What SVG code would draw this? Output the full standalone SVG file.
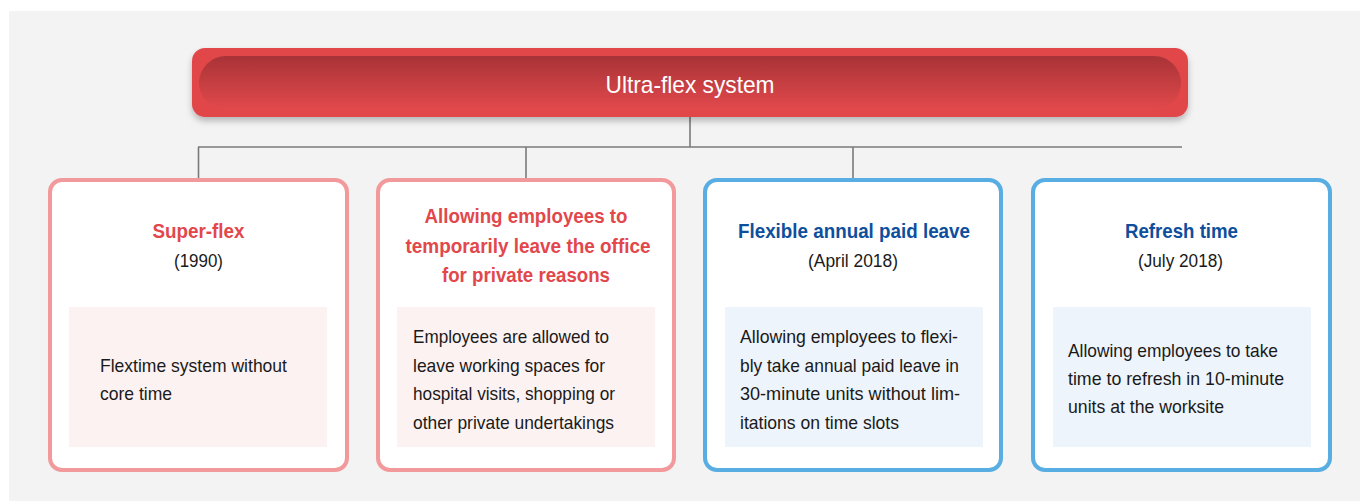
<svg xmlns="http://www.w3.org/2000/svg" width="1360" height="501" viewBox="0 0 1360 501">
<defs>
<style>
.bg{fill:#f3f3f3}
.pink{fill:#ffffff;stroke:#f29a9b;stroke-width:4}
.blue{fill:#ffffff;stroke:#58ade2;stroke-width:4}
.pinkin{fill:#fdf2f2}
.bluein{fill:#eef4fb}
.conn{stroke:#7a7a7a;stroke-width:1.6;fill:none}
text{font-family:"Liberation Sans",Arial,sans-serif}
.tr{fill:#e2474b;font-size:21px;font-weight:bold;text-anchor:middle}
.tb{fill:#0e4f9d;font-size:21px;font-weight:bold;text-anchor:middle}
.dt{fill:#1a1a1a;font-size:18px;text-anchor:middle}
.bd{fill:#1a1a1a;font-size:19px}
.hd{fill:#ffffff;font-size:24px;text-anchor:middle}
</style>
<linearGradient id="pill" x1="0" y1="0" x2="0" y2="1">
<stop offset="0" stop-color="#a83337"/>
<stop offset="1" stop-color="#e2494c"/>
</linearGradient>
<filter id="sh" x="-5%" y="-20%" width="110%" height="160%">
<feDropShadow dx="0" dy="4" stdDeviation="3" flood-color="#000" flood-opacity="0.25"/>
</filter>
</defs>
<rect x="0" y="0" width="1360" height="501" fill="#ffffff"/>
<rect class="bg" x="9" y="11" width="1351" height="490"/>

<g id="connectors">
<line class="conn" x1="690" y1="117" x2="690" y2="147"/>
<line class="conn" x1="198" y1="147" x2="1182" y2="147"/>
<line class="conn" x1="198.5" y1="147" x2="198.5" y2="179"/>
<line class="conn" x1="526" y1="147" x2="526" y2="179"/>
<line class="conn" x1="853" y1="147" x2="853" y2="179"/>
</g>

<g id="root">
<rect x="192" y="48" width="996" height="69" rx="13" fill="#e1474a" filter="url(#sh)"/>
<rect x="199" y="56" width="982" height="54" rx="27" fill="url(#pill)"/>
<text class="hd" x="690" y="93" textLength="169" lengthAdjust="spacingAndGlyphs">Ultra-flex system</text>
</g>

<g id="superflex">
<rect class="pink" x="50" y="180" width="297" height="290" rx="12"/>
<rect class="pinkin" x="69" y="307" width="258" height="140"/>
<text class="tr" x="198.5" y="238" textLength="92" lengthAdjust="spacingAndGlyphs">Super-flex</text>
<text class="dt" x="198.5" y="267" textLength="49" lengthAdjust="spacingAndGlyphs">(1990)</text>
<text class="bd" x="100" y="372" textLength="187" lengthAdjust="spacingAndGlyphs">Flextime system without</text>
<text class="bd" x="100" y="400" textLength="72" lengthAdjust="spacingAndGlyphs">core time</text>
</g>

<g id="leave-office">
<rect class="pink" x="378" y="180" width="296" height="290" rx="12"/>
<rect class="pinkin" x="397" y="307" width="258" height="140"/>
<text class="tr" x="526" y="223" textLength="203" lengthAdjust="spacingAndGlyphs">Allowing employees to</text>
<text class="tr" x="528" y="253" textLength="245" lengthAdjust="spacingAndGlyphs">temporarily leave the office</text>
<text class="tr" x="526" y="282" textLength="168" lengthAdjust="spacingAndGlyphs">for private reasons</text>
<text class="bd" x="413" y="343" textLength="196" lengthAdjust="spacingAndGlyphs">Employees are allowed to</text>
<text class="bd" x="413" y="372" textLength="192" lengthAdjust="spacingAndGlyphs">leave working spaces for</text>
<text class="bd" x="413" y="400" textLength="202" lengthAdjust="spacingAndGlyphs">hospital visits, shopping or</text>
<text class="bd" x="413" y="429" textLength="201" lengthAdjust="spacingAndGlyphs">other private undertakings</text>
</g>

<g id="annual-leave">
<rect class="blue" x="705" y="180" width="296" height="290" rx="12"/>
<rect class="bluein" x="725" y="307" width="258" height="140"/>
<text class="tb" x="854" y="238" textLength="232" lengthAdjust="spacingAndGlyphs">Flexible annual paid leave</text>
<text class="dt" x="853" y="267" textLength="90" lengthAdjust="spacingAndGlyphs">(April 2018)</text>
<text class="bd" x="740" y="343" textLength="218" lengthAdjust="spacingAndGlyphs">Allowing employees to flexi-</text>
<text class="bd" x="740" y="372" textLength="219" lengthAdjust="spacingAndGlyphs">bly take annual paid leave in</text>
<text class="bd" x="740" y="400" textLength="220" lengthAdjust="spacingAndGlyphs">30-minute units without lim-</text>
<text class="bd" x="740" y="429" textLength="159" lengthAdjust="spacingAndGlyphs">itations on time slots</text>
</g>

<g id="refresh-time">
<rect class="blue" x="1033" y="180" width="297" height="290" rx="12"/>
<rect class="bluein" x="1053" y="307" width="258" height="140"/>
<text class="tb" x="1181.5" y="238" textLength="113" lengthAdjust="spacingAndGlyphs">Refresh time</text>
<text class="dt" x="1180.5" y="267" textLength="85" lengthAdjust="spacingAndGlyphs">(July 2018)</text>
<text class="bd" x="1068" y="357" textLength="210" lengthAdjust="spacingAndGlyphs">Allowing employees to take</text>
<text class="bd" x="1068" y="385" textLength="216" lengthAdjust="spacingAndGlyphs">time to refresh in 10-minute</text>
<text class="bd" x="1068" y="413" textLength="156" lengthAdjust="spacingAndGlyphs">units at the worksite</text>
</g>
</svg>
